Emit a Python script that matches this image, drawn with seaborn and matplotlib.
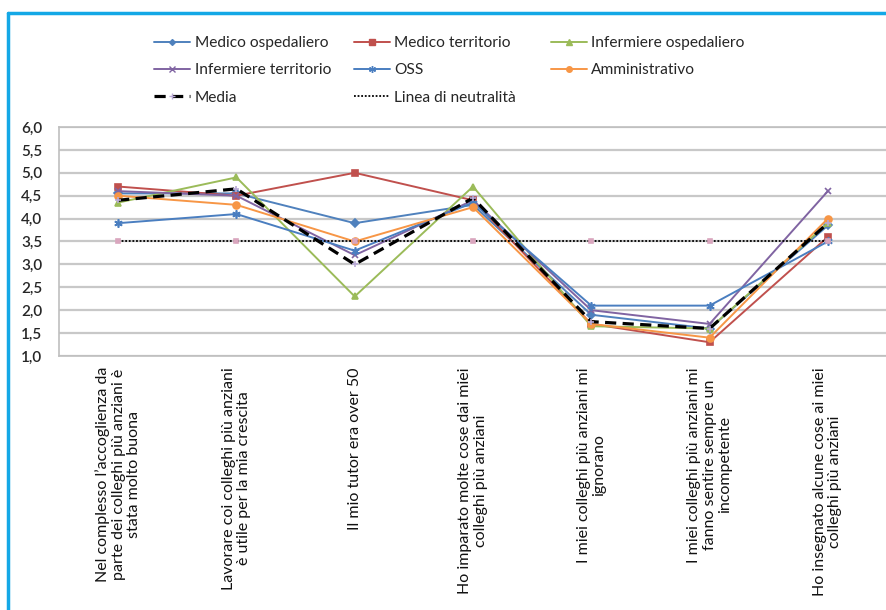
"""
Line chart: agreement scores per professional group, with the mean and a neutrality line.
"""

import matplotlib
matplotlib.use("Agg")
import matplotlib.pyplot as plt
import pandas as pd
import seaborn as sns
from matplotlib.lines import Line2D

# ------------------------------------------------------------------------------
# Data
# ------------------------------------------------------------------------------
categories = [
    "Nel complesso l\u2019accoglienza da\nparte dei colleghi pi\u00f9 anziani \u00e8\nstata molto buona",
    "Lavorare coi colleghi pi\u00f9 anziani\n\u00e8 utile per la mia crescita",
    "Il mio tutor era over 50",
    "Ho imparato molte cose dai miei\ncolleghi pi\u00f9 anziani",
    "I miei colleghi pi\u00f9 anziani mi\nignorano",
    "I miei colleghi pi\u00f9 anziani mi\nfanno sentire sempre un\nincompetente",
    "Ho insegnato alcune cose ai miei\ncolleghi pi\u00f9 anziani",
]
medico_ospedaliero = [4.55, 4.55, 3.9, 4.3, 1.9, 1.6, 3.85]
medico_territorio = [4.7, 4.5, 5.0, 4.4, 1.7, 1.3, 3.6]
infermiere_ospedaliero = [4.35, 4.9, 2.3, 4.7, 1.65, 1.6, 3.9]
infermiere_territorio = [4.6, 4.5, 3.2, 4.4, 2.0, 1.7, 4.6]
oss = [3.9, 4.1, 3.3, 4.35, 2.1, 2.1, 3.5]
amministrativo = [4.5, 4.3, 3.5, 4.25, 1.7, 1.4, 4.0]
media = [4.4, 4.65, 3.0, 4.45, 1.75, 1.6, 3.9]
neutralita = [3.5] * 7

y_ticks = [1.0, 1.5, 2.0, 2.5, 3.0, 3.5, 4.0, 4.5, 5.0, 5.5, 6.0]

# ------------------------------------------------------------------------------
# Styling
# ------------------------------------------------------------------------------
sns.set_style("white")
plt.rcParams["font.family"] = ["Lato", "DejaVu Sans"]

series = [
    # label, values, color, marker, markersize, linestyle, linewidth
    ("Medico ospedaliero", medico_ospedaliero, "#4F81BD", "D", 4, "-", 1.4),
    ("Medico territorio", medico_territorio, "#C0504D", "s", 5, "-", 1.4),
    ("Infermiere ospedaliero", infermiere_ospedaliero, "#9BBB59", "^", 5, "-", 1.4),
    ("Infermiere territorio", infermiere_territorio, "#8064A2", "x", 5, "-", 1.4),
    ("OSS", oss, "#4A7EC0", (6, 2, 0), 6, "-", 1.4),
    ("Amministrativo", amministrativo, "#F79646", "o", 5, "-", 1.4),
    ("Media", media, "#000000", "+", 5, (0, (3.5, 2)), 2.3),
    ("Linea di neutralit\u00e0", neutralita, "#000000", "s", 3, (0, (1, 1)), 1.3),
]

fig = plt.figure(figsize=(8.87, 6.10), dpi=100)
ax = fig.add_axes([0.0665, 0.4164, 0.9335, 0.3754])

x_pos = list(range(len(categories)))
handles = {}
for label, values, color, marker, ms, ls, lw in series:
    df = pd.DataFrame({"x": x_pos, "y": values})
    mfc = color
    mec = color
    if label == "Media":
        mec = "#B9A9D6"
    if label.startswith("Linea"):
        mfc = mec = "#D9A6BE"
    sns.lineplot(
        data=df, x="x", y="y", ax=ax, color=color, linewidth=lw,
        linestyle=ls, marker=marker, markersize=ms,
        markerfacecolor=mfc, markeredgecolor=mec, markeredgewidth=1.2,
        legend=False, zorder=3 if label != "Media" else 4,
    )
    if label.startswith("Linea"):
        h = Line2D([], [], color=color, linewidth=lw, linestyle=ls)
    else:
        h = Line2D([], [], color=color, linewidth=lw, linestyle=ls,
                   marker=marker, markersize=ms - 1,
                   markerfacecolor=mfc, markeredgecolor=mec)
    handles[label] = h

ax.set_xlim(-0.5, len(categories) - 0.5)
ax.set_ylim(1.0, 6.0)
ax.set_yticks(y_ticks)
ax.set_yticklabels([f"{v:.1f}".replace(".", ",") for v in y_ticks],
                   fontsize=11, color="#262626", fontweight="semibold")
ax.set_xticks(x_pos)
ax.set_xticklabels(categories, rotation=90, fontsize=11.5, color="#111111",
                   ha="center", va="top", multialignment="center",
                   linespacing=1.1)
ax.set_xlabel("")
ax.set_ylabel("")
ax.grid(axis="y", color="#C8C8C8", linewidth=1.6)
ax.set_axisbelow(True)
ax.tick_params(axis="y", length=4, color="#BFBFBF", pad=8)
ax.tick_params(axis="x", length=0, pad=8)
for side in ["left", "bottom", "top"]:
    ax.spines[side].set_color("#BFBFBF")
    ax.spines[side].set_linewidth(1.2)
ax.spines["right"].set_visible(False)

# Legend: one legend per column so the column gaps match the reference
legend_cols = [
    (["Medico ospedaliero", "Infermiere territorio", "Media"], 0.174),
    (["Medico territorio", "OSS", "Linea di neutralit\u00e0"], 0.399),
    (["Infermiere ospedaliero", "Amministrativo"], 0.621),
]
for labels, x0 in legend_cols:
    fig.legend(
        [handles[k] for k in labels], labels, frameon=False,
        loc="upper left", bbox_to_anchor=(x0, 0.941), fontsize=11.2,
        handlelength=2.3, handletextpad=0.3, labelspacing=0.86,
        borderaxespad=0.0, borderpad=0.0,
    )

# Cyan frame on the left and top of the figure
fig.add_artist(Line2D([0.0085, 0.0085], [0.0, 0.979], transform=fig.transFigure,
                      color="#14A8E6", linewidth=2.5))
fig.add_artist(Line2D([0.0085, 1.0], [0.979, 0.979], transform=fig.transFigure,
                      color="#14A8E6", linewidth=2.5))

fig.savefig("out.png", dpi=100)
